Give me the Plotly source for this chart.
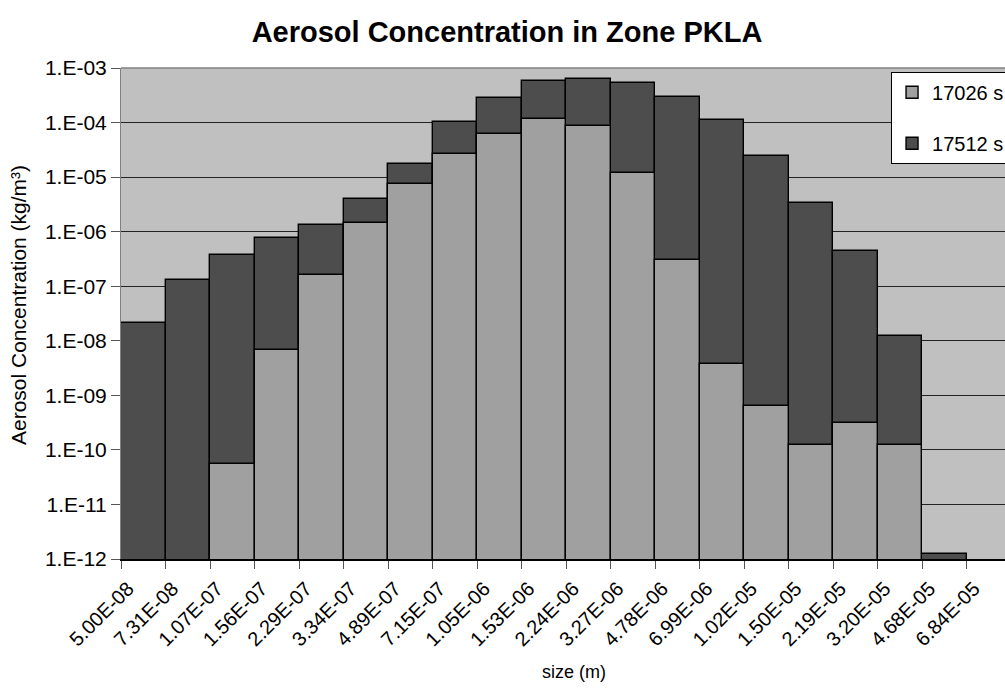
import plotly.graph_objects as go

# Particle size bin boundaries (m), shown at the tick marks between bins
size_labels = ["5.00E-08", "7.31E-08", "1.07E-07", "1.56E-07", "2.29E-07",
               "3.34E-07", "4.89E-07", "7.15E-07", "1.05E-06", "1.53E-06",
               "2.24E-06", "3.27E-06", "4.78E-06", "6.99E-06", "1.02E-05",
               "1.50E-05", "2.19E-05", "3.20E-05", "4.68E-05", "6.84E-05"]

# Aerosol concentration (kg/m3) per size bin at two times
conc_17026 = [None, None, 5.6e-11, 6.9e-09, 1.63e-07, 1.42e-06, 7.4e-06,
              2.65e-05, 6.2e-05, 1.18e-04, 8.6e-05, 1.19e-05, 3.06e-07,
              3.7e-09, 6.5e-10, 1.23e-10, 3.15e-10, 1.23e-10, None]
conc_17512 = [2.1e-08, 1.32e-07, 3.67e-07, 7.66e-07, 1.30e-06, 3.97e-06,
              1.76e-05, 1.02e-04, 2.86e-04, 5.78e-04, 6.28e-04, 5.38e-04,
              2.89e-04, 1.11e-04, 2.47e-05, 3.40e-06, 4.35e-07, 1.21e-08,
              1.25e-12]

y_tick_vals = [1e-12, 1e-11, 1e-10, 1e-09, 1e-08, 1e-07, 1e-06, 1e-05, 1e-04, 1e-03]
y_tick_text = ["1.E-12", "1.E-11", "1.E-10", "1.E-09", "1.E-08", "1.E-07",
               "1.E-06", "1.E-05", "1.E-04", "1.E-03"]

FONT = "Liberation Sans, Arial, sans-serif"

# each bin sits between two boundary ticks
bin_centers = [i + 0.5 for i in range(len(conc_17512))]

fig = go.Figure()
fig.add_trace(go.Bar(
    x=bin_centers, y=conc_17512, width=1.0, name="17512 s",
    legendgroup="b", legendrank=2,
    marker=dict(color="#4d4d4d", line=dict(color="black", width=1.4)),
))
fig.add_trace(go.Bar(
    x=bin_centers, y=conc_17026, width=1.0, name="17026 s",
    legendgroup="a", legendrank=1,
    marker=dict(color="#a0a0a0", line=dict(color="black", width=1.4)),
))

W, H = 1005, 695
left, top, bottom = 120.7, 68.3, 559.3
plot_w = W - left
px_per_bin = 44.54

fig.update_layout(
    width=W, height=H,
    margin=dict(l=left, r=0, t=top, b=H - bottom, autoexpand=False),
    paper_bgcolor="white",
    plot_bgcolor="#c0c0c0",
    barmode="overlay",
    bargap=0,
    font=dict(family=FONT, color="black"),
    title=dict(text="<b>Aerosol Concentration in Zone PKLA</b>",
               x=507 / W, xanchor="center", y=1 - 32 / H, yanchor="middle",
               font=dict(size=29, family=FONT, color="black")),
    showlegend=True,
    legend=dict(x=(891 - left) / plot_w, xanchor="left",
                y=(bottom - 72) / (bottom - top), yanchor="top",
                bgcolor="white", bordercolor="black", borderwidth=1,
                font=dict(size=20, family=FONT, color="black"),
                traceorder="grouped", tracegroupgap=22),
    xaxis=dict(range=[0, plot_w / px_per_bin], tickmode="array",
               tickvals=list(range(len(size_labels))), ticktext=size_labels,
               tickangle=-45, ticks="outside", ticklen=8, tickcolor="#555555",
               tickwidth=1, ticklabelshift=7, showgrid=False, zeroline=False,
               showline=True, linecolor="black", linewidth=2.2,
               tickfont=dict(size=20, family=FONT, color="black")),
    yaxis=dict(type="log", range=[-12, -3], tickmode="array",
               tickvals=y_tick_vals, ticktext=y_tick_text,
               ticks="outside", ticklen=9, tickcolor="#555555", tickwidth=1,
               showgrid=True, gridcolor="#222222", gridwidth=1,
               showline=True, linecolor="#808080", linewidth=1,
               zeroline=False,
               tickfont=dict(size=21, family=FONT, color="black")),
    annotations=[
        dict(text="size (m)", xref="paper", yref="paper",
             x=(574 - left) / plot_w, y=-(672 - bottom) / (bottom - top),
             xanchor="center", yanchor="middle", showarrow=False,
             font=dict(size=18, family=FONT, color="black")),
        dict(text="Aerosol Concentration (kg/m³)", xref="paper", yref="paper",
             x=(18 - left) / plot_w, y=(bottom - 305) / (bottom - top),
             xanchor="center", yanchor="middle", textangle=-90,
             showarrow=False,
             font=dict(size=21, family=FONT, color="black")),
    ],
    shapes=[
        dict(type="line", xref="paper", yref="paper", x0=0, x1=1, y0=1, y1=1,
             line=dict(color="#808080", width=1.5)),
    ],
)

fig.write_html("out.html")
